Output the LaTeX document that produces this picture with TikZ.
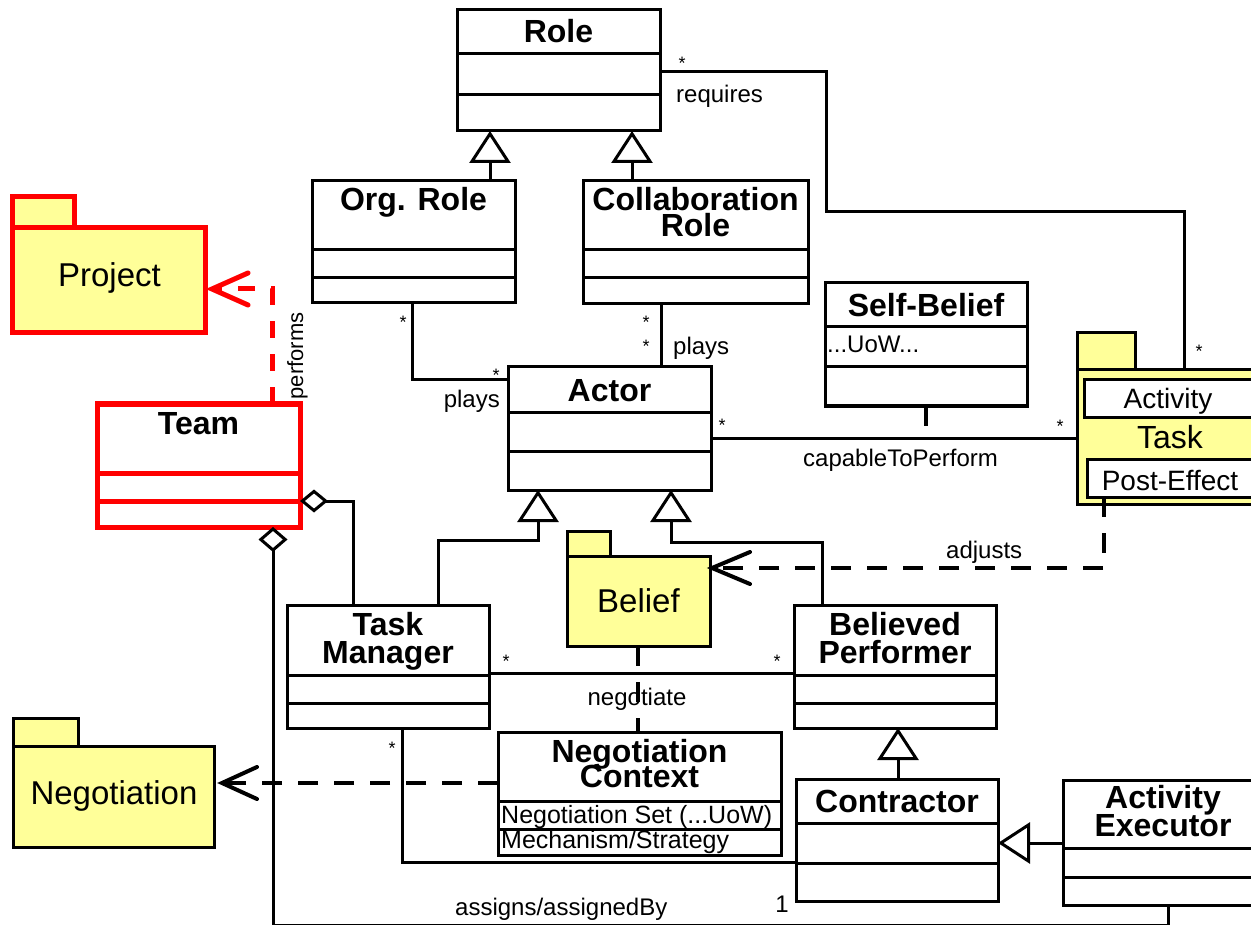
\documentclass[tikz,border=0pt]{standalone}
\usepackage{fontspec}
\setmainfont{Liberation Sans}
\usetikzlibrary{arrows.meta,calc}
\definecolor{pkgyellow}{RGB}{255,255,153}
\definecolor{teamred}{RGB}{255,0,0}

% horizontal compartment line of a class box, #3 pt below its top edge
\newcommand{\classdiv}[3][black]{%
  \draw[line width=3pt,#1] ($(#2.north west)+(0,#3)$) -- ($(#2.north east)+(0,#3)$);}
% two centred title lines with a fixed baseline distance
\newcommand{\twolines}[3]{\vbox{\baselineskip=#1\lineskiplimit=-\maxdimen
  \halign{\hfil##\hfil\cr#2\cr#3\cr}}}
% open V arrow head with its point at #2
\newcommand{\openhead}[4][black]{%
  \draw[#1,solid,line cap=round,line join=miter]
    ($(#2)+(#3,-#4)$) -- (#2) -- ($(#2)+(#3,#4)$);}

\begin{document}
\begin{tikzpicture}[x=1pt,y=-1pt,line join=miter,
  box/.style={draw,line width=3pt,anchor=north west,inner sep=0pt,outer sep=0pt},
  cls/.style={box,fill=white},
  redcls/.style={draw=teamred,line width=5pt,anchor=north west,inner sep=0pt,outer sep=0pt,fill=white},
  pkg/.style={box,fill=pkgyellow},
  redpkg/.style={redcls,fill=pkgyellow},
  ttl/.style={anchor=base,inner sep=0pt,font=\fontsize{32}{32}\selectfont\bfseries},
  pkgname/.style={anchor=base,inner sep=0pt,font=\fontsize{33}{33}\selectfont},
  attr/.style={anchor=base west,inner sep=0pt,font=\fontsize{25}{25}\selectfont},
  lbl/.style={anchor=base,inner sep=0pt,font=\fontsize{24}{24}\selectfont},
  mult/.style={inner sep=0pt,font=\fontsize{18}{18}\selectfont},
  assoc/.style={line width=3pt},
  dep/.style={line width=4pt,dash pattern=on 20pt off 16pt},
  reddep/.style={draw=teamred,line width=5pt,dash pattern=on 17pt off 16pt},
  gen/.style={line width=3pt,-{Triangle[open,length=32pt,width=41pt]}},
]
\useasboundingbox (0,0) rectangle (1251,925);
\clip (0,0) rectangle (1251,925);

% ---------- classes ----------
\node[cls,minimum width=203pt,minimum height=121pt] (role) at (457,10) {};
\classdiv{role}{44}\classdiv{role}{85}
\node[ttl] at (558.5,43) {Role};

\node[cls,minimum width=203pt,minimum height=122pt] (orgrole) at (312,181) {};
\classdiv{orgrole}{69}\classdiv{orgrole}{97}
\node[ttl] at (413.5,211) {Org. Role};

\node[cls,minimum width=225pt,minimum height=123pt] (collab) at (583,181) {};
\classdiv{collab}{69}\classdiv{collab}{97}
\node[ttl] at (695.5,237) {\twolines{26pt}{Collaboration}{Role}};

\node[cls,minimum width=203pt,minimum height=123pt] (actor) at (508,367) {};
\classdiv{actor}{45}\classdiv{actor}{84}
\node[ttl] at (609.5,402) {Actor};

\node[cls,minimum width=202pt,minimum height=123pt] (selfb) at (825,283) {};
\classdiv{selfb}{44}\classdiv{selfb}{84}
\node[ttl] at (926,317) {Self-Belief};
\node[anchor=base west,inner sep=0pt,font=\fontsize{24}{24}\selectfont] at (827,353) {...UoW...};

\node[redcls,minimum width=203pt,minimum height=123pt] (team) at (97,404) {};
\classdiv[teamred,line width=5pt]{team}{69}\classdiv[teamred,line width=5pt]{team}{97}
\node[ttl] at (198.5,435) {Team};

\node[cls,minimum width=202pt,minimum height=123pt] (tm) at (287,605) {};
\classdiv{tm}{70}\classdiv{tm}{98}
\node[ttl] at (388,663) {\twolines{28pt}{Task}{Manager}};

\node[cls,minimum width=202pt,minimum height=123pt] (bp) at (794,605) {};
\classdiv{bp}{70}\classdiv{bp}{98}
\node[ttl] at (895,663) {\twolines{28pt}{Believed}{Performer}};

\node[cls,minimum width=283pt,minimum height=123pt] (nc) at (498,732) {};
\classdiv{nc}{69}\classdiv{nc}{97}
\node[ttl] at (639.5,787) {\twolines{25pt}{Negotiation}{Context}};
\node[attr] at (501,823) {Negotiation Set (...UoW)};
\node[attr] at (501,848) {Mechanism/Strategy};

\node[cls,minimum width=202pt,minimum height=122pt] (contr) at (796,779) {};
\classdiv{contr}{44}\classdiv{contr}{84}
\node[ttl] at (897,812) {Contractor};

\node[cls,minimum width=200pt,minimum height=125pt] (ae) at (1063,780) {};
\classdiv{ae}{68}\classdiv{ae}{97}
\node[ttl] at (1163,836) {\twolines{28pt}{Activity}{Executor}};

% ---------- packages ----------
\node[redpkg,minimum width=62pt,minimum height=31pt] (projtab) at (12,197) {};
\node[redpkg,minimum width=193pt,minimum height=105pt] (projbody) at (12,228) {};
\node[pkgname] at (109.5,287) {Project};

\node[pkg,minimum width=43pt,minimum height=25pt] (belieftab) at (567,531) {};
\node[pkg,minimum width=143pt,minimum height=90pt] (beliefbody) at (567,556) {};
\node[pkgname] at (638.5,612) {Belief};

\node[pkg,minimum width=65pt,minimum height=28pt] (negtab) at (13,718) {};
\node[pkg,minimum width=201pt,minimum height=101pt] (negbody) at (13,746) {};
\node[pkgname] at (114,804) {Negotiation};

\node[pkg,minimum width=58pt,minimum height=37pt] (tasktab) at (1077,333) {};
\node[pkg,minimum width=190pt,minimum height=134pt] (taskbody) at (1077,370) {};
\node[cls,minimum width=180pt,minimum height=37pt] (actbox) at (1084,380) {};
\node[anchor=base,inner sep=0pt,font=\fontsize{28}{28}\selectfont] at (1168,408) {Activity};
\node[anchor=base,inner sep=0pt,font=\fontsize{32}{32}\selectfont] at (1170,448) {Task};
\node[cls,minimum width=180pt,minimum height=38pt] (posteff) at (1087,459) {};
\node[anchor=base,inner sep=0pt,font=\fontsize{28}{28}\selectfont] at (1170,490) {Post-Effect};

% ---------- generalizations ----------
\draw[gen] (orgrole.north -| 490,0) -- (role.south -| 490,0);
\draw[gen] (collab.north -| 632,0) -- (role.south -| 632,0);
\draw[gen] (tm.north -| 438,0) |- (538,540) -- (actor.south -| 538,0);
\draw[gen] (bp.north -| 822,0) |- (671,542) -- (actor.south -| 671,0);
\draw[gen] (contr.north -| 898,0) -- (bp.south -| 898,0);
\draw[gen] (ae.west |- 0,843) -- (contr.east |- 0,843);

% ---------- associations ----------
\draw[assoc] (role.east |- 0,72) -| (826,212) -| (taskbody.north -| 1184,0);
\node[mult] at (682,63) {*};
\node[lbl,anchor=base west] at (676,103) {requires};
\node[mult] at (1199,351) {*};

\draw[assoc] (orgrole.south -| 412,0) |- (actor.west |- 0,380);
\node[mult] at (403,322) {*};
\node[mult] at (496,375) {*};
\node[lbl,anchor=base east] at (500,407) {plays};

\draw[assoc] (collab.south -| 661,0) -- (actor.north -| 661,0);
\node[mult] at (646,322) {*};
\node[mult] at (646,346) {*};
\node[lbl,anchor=base west] at (673,355) {plays};

\draw[assoc] (actor.east |- 0,438) -- (taskbody.west |- 0,438);
\node[mult] at (722,425) {*};
\node[mult] at (1060,426) {*};
\node[lbl,anchor=base west] at (803,466) {capableToPerform};
\coordinate (capmid) at (926,438);
\draw[dep] (selfb.south -| capmid) -- (capmid);

\draw[assoc] (tm.east |- 0,673) -- (bp.west |- 0,673);
\node[mult] at (506,661) {*};
\node[mult] at (777,661) {*};
\draw[dep] (beliefbody.south -| 638,0) -- (nc.north -| 638,0);
\node[lbl] at (637,705) {negotiate};

\draw[assoc] (tm.south -| 402,0) |- (contr.west |- 0,862);
\node[mult] at (392,748) {*};

\draw[assoc,{Diamond[open,length=28pt,width=23pt]}-] (team.east |- 0,501) -| (tm.north -| 353,0);
\draw[assoc,{Diamond[open,length=25pt,width=29pt]}-] (team.south -| 273,0) |- (1168,925) -- (ae.south -| 1168,0);
\node[lbl,anchor=base west] at (455,915) {assigns/assignedBy};
\node[lbl] at (782,912) {1};

% ---------- dependencies ----------
\coordinate (projtip) at ($(projbody.east |- 0,289)+(7,0)$);
\draw[reddep] (team.north -| 272,0) |- (projtip);
\openhead[teamred,line width=5pt]{projtip}{36}{16}
\node[rotate=90,anchor=base,inner sep=0pt,font=\fontsize{22}{22}\selectfont] at (303,356) {performs};

\coordinate (belieftip) at ($(beliefbody.east |- 0,568)+(2,0)$);
\draw[dep] (posteff.south -| 1104,0) |- (belieftip);
\openhead[line width=4pt]{belieftip}{38}{16}
\node[lbl,anchor=base west] at (946,558) {adjusts};

\coordinate (negtip) at ($(negbody.east |- 0,783)+(8,0)$);
\draw[dep] (nc.west |- 0,783) -- (negtip);
\openhead[line width=4pt]{negtip}{35}{16}
\end{tikzpicture}
\end{document}
